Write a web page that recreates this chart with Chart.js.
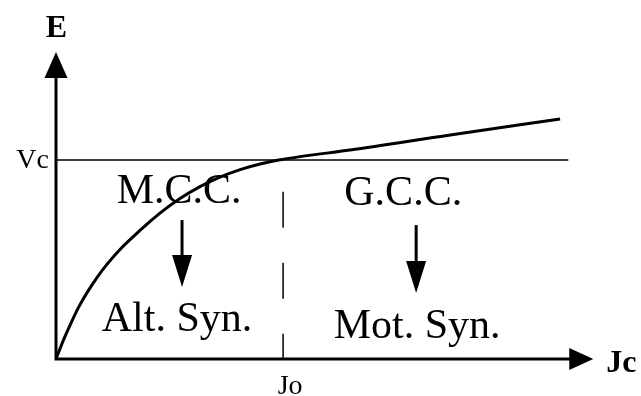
<!DOCTYPE html>
<html>
<head>
<meta charset="utf-8">
<script src="https://cdn.jsdelivr.net/npm/chart.js@4.4.1/dist/chart.umd.min.js"></script>
<style>
  html, body { margin: 0; padding: 0; background: #fff; }
  canvas { display: block; }
</style>
</head>
<body>
<canvas id="chart" width="641" height="396"></canvas>
<script>
// E - Jc characteristic (units: Jc / Jo, E / Vc)
const curveJc = [0, 0.035, 0.065, 0.101, 0.138, 0.182, 0.226, 0.285, 0.344, 0.402, 0.458, 0.546, 0.634, 0.722, 0.811, 0.899, 0.987, 1.075, 1.295, 1.736, 2.220];
const curveE  = [0, 0.101, 0.178, 0.263, 0.336, 0.412, 0.478, 0.554, 0.619, 0.679, 0.733, 0.806, 0.866, 0.914, 0.952, 0.980, 1.001, 1.017, 1.050, 1.126, 1.206];

// reference levels
const vcLevel = 1;
const vcLineJc = [0, 2.256];
const joValue = 1;
const joLineE = [0, 0.84];

// texts
const tickLabels = ['Vc', 'Jo'];
const axisTitles = ['E', 'Jc'];
const regionLabels = ['M.C.C.', 'G.C.C.'];
const modeLabels = ['Alt. Syn.', 'Mot. Syn.'];

const toPoints = (xs, ys) => xs.map((x, i) => ({ x: x, y: ys[i] }));

// arrow head pointing from (bx,by) to tip (tx,ty)
function arrowHead(ctx, tx, ty, bx, by, half) {
  const ang = Math.atan2(ty - by, tx - bx);
  const nx = -Math.sin(ang), ny = Math.cos(ang);
  ctx.beginPath();
  ctx.moveTo(tx, ty);
  ctx.lineTo(bx + nx * half, by + ny * half);
  ctx.lineTo(bx - nx * half, by - ny * half);
  ctx.closePath();
  ctx.fill();
}

const schemaPlugin = {
  id: 'schema',
  afterDatasetsDraw(chart) {
    const ctx = chart.ctx;
    const xs = chart.scales.x, ys = chart.scales.y;
    const px = v => xs.getPixelForValue(v);
    const py = v => ys.getPixelForValue(v);
    ctx.save();
    ctx.fillStyle = '#000';
    ctx.strokeStyle = '#000';

    // axes with arrows
    const x0 = px(0), y0 = py(0);
    const xTip = px(2.366), yTip = py(1.543);
    ctx.lineWidth = 3;
    ctx.beginPath();
    ctx.moveTo(x0, y0 + 1.5);
    ctx.lineTo(x0, yTip + 20);
    ctx.moveTo(x0 - 1.5, y0);
    ctx.lineTo(xTip - 20, y0);
    ctx.stroke();
    arrowHead(ctx, x0, yTip, x0, yTip + 26, 11.5);
    arrowHead(ctx, xTip, y0, xTip - 24, y0, 11);

    // axis titles
    ctx.font = 'bold 32px "Liberation Serif"';
    ctx.textBaseline = 'alphabetic';
    ctx.textAlign = 'center';
    ctx.fillText(axisTitles[0], x0 + 0.5, 37);
    ctx.textAlign = 'left';
    ctx.fillText(axisTitles[1], xTip + 13, y0 + 13);

    // tick labels
    ctx.font = '28px "Liberation Serif"';
    ctx.textAlign = 'right';
    ctx.fillText(tickLabels[0], x0 - 7, py(vcLevel) + 8);
    ctx.textAlign = 'center';
    ctx.fillText(tickLabels[1], px(joValue) + 7, 394);

    // region labels
    ctx.font = '42px "Liberation Serif"';
    ctx.textAlign = 'center';
    ctx.fillText(regionLabels[0], px(0.542), py(0.784));
    ctx.fillText(regionLabels[1], px(1.529), py(0.774));
    ctx.fillText(modeLabels[0], px(0.533), py(0.141));
    ctx.fillText(modeLabels[1], px(1.590), py(0.106));

    // down arrows
    const downArrow = (xv, fromE, toE) => {
      const ax = px(xv), a1 = py(fromE), a2 = py(toE);
      ctx.lineWidth = 3;
      ctx.beginPath();
      ctx.moveTo(ax, a1);
      ctx.lineTo(ax, a2 - 20);
      ctx.stroke();
      arrowHead(ctx, ax, a2, ax, a2 - 32, 10);
    };
    downArrow(0.555, 0.698, 0.362);
    downArrow(1.586, 0.673, 0.332);

    ctx.restore();
  }
};

new Chart(document.getElementById('chart'), {
  type: 'line',
  data: {
    datasets: [
      {
        data: toPoints(vcLineJc, vcLineJc.map(() => vcLevel)),
        borderColor: '#000',
        borderWidth: 1.5,
        pointRadius: 0
      },
      {
        data: toPoints(joLineE.map(() => joValue), joLineE.slice().reverse()),
        borderColor: '#000',
        borderWidth: 1.5,
        borderDash: [36, 35],
        pointRadius: 0
      },
      {
        data: toPoints(curveJc, curveE),
        borderColor: '#000',
        borderWidth: 3,
        cubicInterpolationMode: 'monotone',
        pointRadius: 0
      }
    ]
  },
  options: {
    responsive: false,
    animation: false,
    events: [],
    layout: { padding: { left: 56, right: 40, top: 50.55, bottom: 37 } },
    scales: {
      x: { type: 'linear', min: 0, max: 2.4, display: false },
      y: { type: 'linear', min: 0, max: 1.55, display: false }
    },
    plugins: {
      legend: { display: false },
      tooltip: { enabled: false }
    }
  },
  plugins: [schemaPlugin]
});
</script>
</body>
</html>
